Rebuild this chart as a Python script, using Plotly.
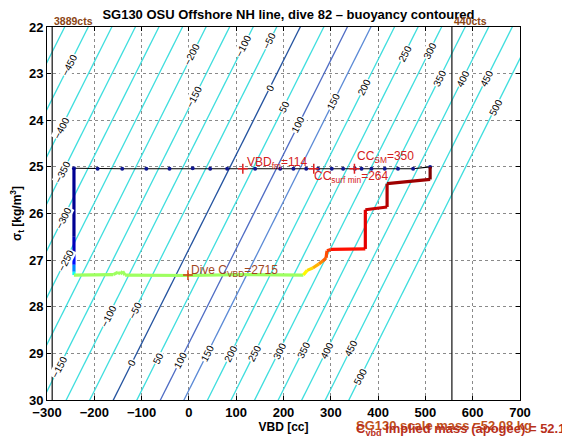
import plotly.graph_objects as go

# ---------------- data ----------------
title_text = "SG130 OSU Offshore NH line, dive 82 – buoyancy contoured"

# buoyancy contour model: VBD on a buoyancy line of level B [g] at sigma_t
neutral_vbd_at_sigma22 = 235.4   # cc, B = 0 line at sigma_t = 22
cc_per_gram = 0.996              # cc of VBD per g of buoyancy
cc_per_sigma = 49.4              # cc of VBD per kg/m^3 of sigma_t
buoyancy_levels = list(range(-500, 501, 50))

# dive trace (VBD [cc], sigma_t) and normalized time (for jet colouring)
dive_vbd = [-243, -243, -243, -243, -243, -243,
            -160, -150, -145, -140, -135, 0, 100, 242,
            250, 262, 275, 283, 290, 292, 300,
            373, 373, 419, 419, 510, 510]
dive_sigma = [25.02, 26.50, 26.90, 27.10, 27.25, 27.32,
              27.31, 27.26, 27.30, 27.24, 27.32, 27.33, 27.31, 27.32,
              27.22, 27.17, 27.08, 27.02, 26.95, 26.80, 26.77,
              26.76, 25.92, 25.86, 25.36, 25.27, 25.00]
dive_time = [0.02, 0.06, 0.14, 0.26, 0.38, 0.53,
             0.53, 0.53, 0.53, 0.53, 0.53, 0.53, 0.53, 0.63,
             0.66, 0.70, 0.74, 0.78, 0.80, 0.82, 0.86,
             0.90, 0.93, 0.95, 0.97, 1.00, 1.00]

# surface samples
surface_vbd = [-243, -193, -141, -90, -41, 8, 45, 81, 140, 193, 221, 248,
               273, 302, 326, 351, 365, 386, 414, 442, 474, 510]
surface_sigma = [25.03, 25.04, 25.04, 25.04, 25.04, 25.03, 25.04, 25.04,
                 25.04, 25.04, 25.04, 25.04, 25.04, 25.04, 25.04, 25.04,
                 25.04, 25.04, 25.04, 25.04, 25.04, 25.00]

# VBD count limits
count_labels = ["3889cts", "440cts"]
count_vbd = [-289, 556]

# marked VBD values near the surface
surface_marks_vbd = [114, 264, 350]
surface_marks_text = ["VBD<sub>fm</sub>=114", "CC<sub>surf min</sub>=264",
                      "CC<sub>SM</sub>=350"]
surface_marks_sigma = 25.04

dive_cvbd_vbd = -2
dive_cvbd_sigma = 27.32
dive_cvbd_text = "Dive C<sub>VBD</sub>=2715"

scale_mass_text = "SG130 scale mass =52.08 kg"
implied_mass_text = "C<sub>vbd</sub> Implied mass (apogee) = 52.115"

x_ticks = list(range(-300, 701, 100))
y_ticks = list(range(22, 31))

# ---------------- styles ----------------
FONT = "Liberation Sans, Arial, Helvetica, sans-serif"
CYAN = "#3fdede"
special_colors = {0: "#24539f", 100: "#4f6cc4", 150: "#5b8ad6"}
# sigma_t at which each contour label sits
label_rows = [
    {-450: 22.82, -400: 24.17, -350: 25.1, -300: 26.1, -250: 27.0,
     -200: 22.6, -150: 23.5, -100: 22.4, -50: 22.3,
     0: 23.31, 50: 23.7, 100: 24.1, 150: 23.6, 200: 23.3,
     250: 22.56, 300: 22.5, 350: 23.1, 400: 23.1, 450: 23.1, 500: 23.72},
    {-150: 29.3, -100: 28.2, -50: 28.07, 0: 29.2, 50: 29.1, 100: 29.15,
     150: 29.0, 200: 29.0, 250: 29.0, 300: 28.95,
     350: 28.93, 400: 28.93, 450: 28.9, 500: 29.5},
]

# page body offset compensation (browser default 8px margin)
W, H = 562, 431
ML, MR, MT, MB = 39, 50, 19, 39


def vbd_for(level, sigma):
    return neutral_vbd_at_sigma22 + cc_per_gram * level - cc_per_sigma * (sigma - 22.0)


def jet(t):
    def c(v):
        return max(0.0, min(1.0, v))
    r = c(1.5 - abs(4 * t - 3))
    g = c(1.5 - abs(4 * t - 2))
    b = c(1.5 - abs(4 * t - 1))
    return "rgb(%d,%d,%d)" % (r * 255, g * 255, b * 255)


fig = go.Figure()

for lev in buoyancy_levels:
    ss = [21.5, 30.5]
    fig.add_trace(go.Scatter(
        x=[vbd_for(lev, s) for s in ss], y=ss, mode="lines",
        line=dict(color=special_colors.get(lev, CYAN), width=1.3),
        hoverinfo="skip", showlegend=False))

for v in count_vbd:
    fig.add_trace(go.Scatter(x=[v, v], y=[22, 30], mode="lines",
                             line=dict(color="#222222", width=1.3),
                             hoverinfo="skip", showlegend=False))

fig.add_trace(go.Scatter(x=surface_vbd, y=surface_sigma, mode="lines+markers",
                         line=dict(color="black", width=1.2),
                         marker=dict(color="#101890", size=4),
                         hoverinfo="skip", showlegend=False))

for i in range(len(dive_vbd) - 1):
    fig.add_trace(go.Scatter(
        x=[dive_vbd[i], dive_vbd[i + 1]], y=[dive_sigma[i], dive_sigma[i + 1]],
        mode="lines", line=dict(color=jet(dive_time[i]), width=3.2),
        hoverinfo="skip", showlegend=False))

annos = []
for row in label_rows:
    for lev, s in row.items():
        annos.append(dict(x=vbd_for(lev, s), y=s, xref="x", yref="y",
                          text=str(lev).replace("-", "−"), showarrow=False,
                          textangle=-63,
                          font=dict(family=FONT, size=10, color="black"),
                          bgcolor="white", borderpad=0))

fig.add_trace(go.Scatter(x=surface_marks_vbd, y=[surface_marks_sigma] * 3,
                         mode="markers",
                         marker=dict(symbol="cross-thin", size=7,
                                     line=dict(color="#dd2020", width=1.5)),
                         hoverinfo="skip", showlegend=False))
fig.add_trace(go.Scatter(x=[dive_cvbd_vbd], y=[dive_cvbd_sigma], mode="markers",
                         marker=dict(symbol="cross-thin", size=7,
                                     line=dict(color="#d04010", width=1.5)),
                         hoverinfo="skip", showlegend=False))

RED = "#d42020"
annos.append(dict(x=surface_marks_vbd[0], y=surface_marks_sigma, xref="x", yref="y",
                  text=surface_marks_text[0], showarrow=False, xanchor="left",
                  yanchor="bottom", xshift=2, yshift=-4,
                  font=dict(family=FONT, size=12, color=RED)))
annos.append(dict(x=surface_marks_vbd[1], y=surface_marks_sigma, xref="x", yref="y",
                  text=surface_marks_text[1], showarrow=False, xanchor="left",
                  yanchor="top", xshift=-2, yshift=2,
                  font=dict(family=FONT, size=12, color=RED)))
annos.append(dict(x=surface_marks_vbd[2], y=surface_marks_sigma, xref="x", yref="y",
                  text=surface_marks_text[2], showarrow=False, xanchor="left",
                  yanchor="bottom", xshift=1, yshift=2,
                  font=dict(family=FONT, size=12, color=RED)))
annos.append(dict(x=dive_cvbd_vbd, y=dive_cvbd_sigma, xref="x", yref="y",
                  text=dive_cvbd_text, showarrow=False, xanchor="left",
                  yanchor="bottom", xshift=1, yshift=-6,
                  font=dict(family=FONT, size=12, color="#a0461e")))

for lab, v in zip(count_labels, count_vbd):
    annos.append(dict(x=v, y=1, xref="x", yref="paper", text=lab, showarrow=False,
                      xanchor="left", yanchor="bottom", xshift=0, yshift=-2,
                      font=dict(family=FONT, size=10.5, color="#8b4513", weight="bold")))

pw, ph = W - ML - MR, H - MT - MB
def px_to_paper(xp, yp_from_top):
    return (xp - ML) / pw, (H - yp_from_top - MB) / ph

x1, y1 = px_to_paper(346, 417)
x2, y2 = px_to_paper(346, 421)
annos.append(dict(x=x1, y=y1, xref="paper", yref="paper", text=scale_mass_text,
                  showarrow=False, xanchor="left", yanchor="middle",
                  font=dict(family=FONT, size=13, color="#c0501a", weight="bold")))
annos.append(dict(x=x2, y=y2, xref="paper", yref="paper", text=implied_mass_text,
                  showarrow=False, xanchor="left", yanchor="middle",
                  font=dict(family=FONT, size=13, color="#b8301c", weight="bold")))

fig.update_layout(
    width=W, height=H,
    margin=dict(l=ML, r=MR, t=MT, b=MB, autoexpand=False),
    paper_bgcolor="white", plot_bgcolor="white",
    title=dict(text=title_text, x=(283 - 8 - ML) / pw, xanchor="center",
               y=1 - 6 / H, yanchor="middle",
               font=dict(family=FONT, size=13, color="black", weight="bold")),
    annotations=annos,
    xaxis=dict(range=[-300, 700], tickvals=x_ticks, showgrid=True,
               gridcolor="#8a8a8a", griddash="dot", gridwidth=1, zeroline=False,
               showline=True, linecolor="black", linewidth=1, mirror="ticks",
               ticks="inside", ticklen=4, tickcolor="black",
               tickfont=dict(family=FONT, size=13, color="black", weight="bold"),
               title=dict(text="VBD [cc]", standoff=0,
                          font=dict(family=FONT, size=12, color="black", weight="bold"))),
    yaxis=dict(range=[30, 22], tickvals=y_ticks, showgrid=True,
               gridcolor="#8a8a8a", griddash="dot", gridwidth=1, zeroline=False,
               showline=True, linecolor="black", linewidth=1, mirror="ticks",
               ticks="inside", ticklen=4, tickcolor="black",
               tickfont=dict(family=FONT, size=13, color="black", weight="bold"),
               title=dict(text="σ<sub>t</sub> [kg/m<sup>3</sup>]", standoff=6,
                          font=dict(family=FONT, size=12, color="black", weight="bold"))),
)

fig.write_html("out.html")
